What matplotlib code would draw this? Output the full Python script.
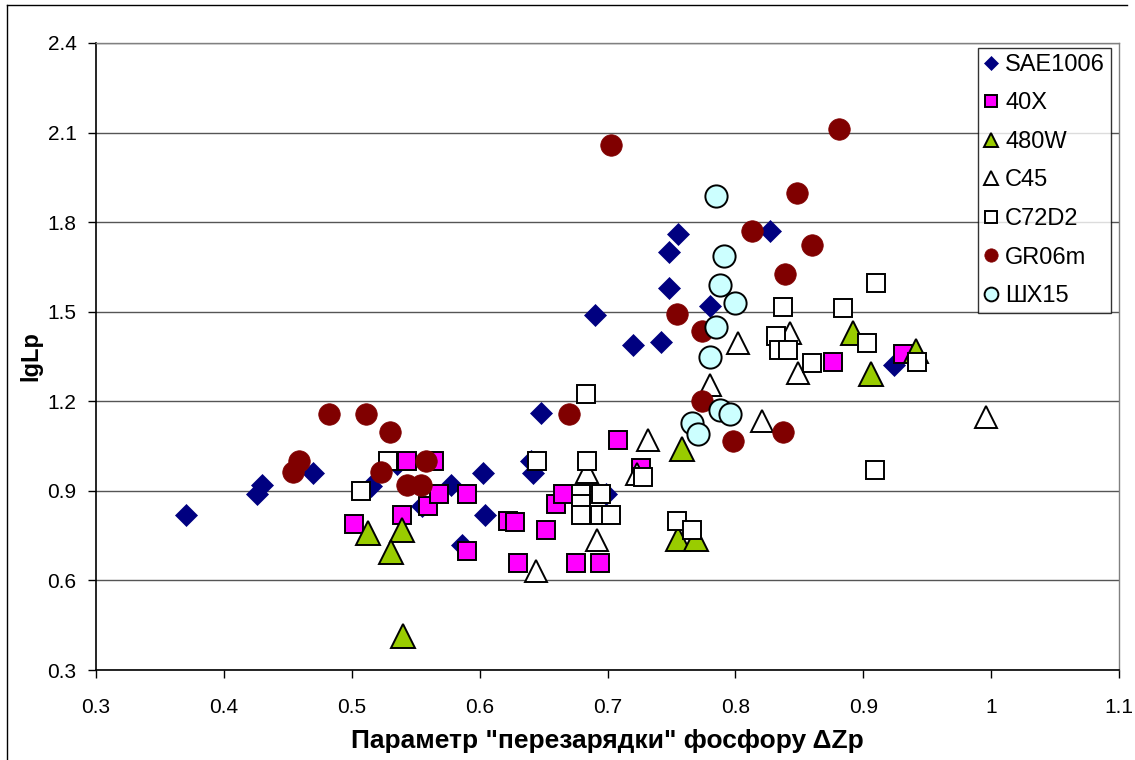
import matplotlib
matplotlib.use("Agg")
import matplotlib.pyplot as plt
from matplotlib.lines import Line2D

plt.rcParams['font.family'] = ['Liberation Sans', 'DejaVu Sans']

# ---- data ----
sae_x = [0.37, 0.426, 0.43, 0.47, 0.515, 0.535, 0.555, 0.578, 0.586, 0.603, 0.604, 0.64, 0.642,
         0.648, 0.69, 0.699, 0.72, 0.742, 0.748, 0.748, 0.755, 0.78, 0.827, 0.924]
sae_y = [0.82, 0.89, 0.92, 0.96, 0.915, 0.99, 0.85, 0.92, 0.72, 0.96, 0.82, 1.0, 0.96,
         1.16, 1.49, 0.89, 1.39, 1.40, 1.58, 1.70, 1.76, 1.52, 1.77, 1.32]

x40_x = [0.502, 0.539, 0.543, 0.56, 0.564, 0.568, 0.59, 0.59, 0.622, 0.628, 0.63, 0.652, 0.66,
         0.665, 0.675, 0.694, 0.708, 0.726, 0.876, 0.931]
x40_y = [0.79, 0.82, 1.0, 0.85, 1.0, 0.89, 0.89, 0.70, 0.80, 0.795, 0.66, 0.77, 0.855,
         0.89, 0.66, 0.66, 1.07, 0.975, 1.33, 1.36]

w480_x = [0.513, 0.539, 0.531, 0.54, 0.758, 0.755, 0.769, 0.892, 0.906, 0.941]
w480_y = [0.76, 0.77, 0.695, 0.415, 1.04, 0.74, 0.74, 1.43, 1.29, 1.37]

c45_x = [0.644, 0.684, 0.692, 0.723, 0.732, 0.78, 0.802, 0.821, 0.843, 0.849, 0.996]
c45_y = [0.633, 0.962, 0.737, 0.958, 1.072, 1.254, 1.394, 1.133, 1.428, 1.294, 1.146]

c72_x = [0.507, 0.528, 0.645, 0.683, 0.684, 0.679, 0.679, 0.679, 0.695, 0.694, 0.703, 0.728,
         0.754, 0.766, 0.832, 0.834, 0.841, 0.837, 0.86, 0.884, 0.903, 0.91, 0.909, 0.942]
c72_y = [0.90, 1.0, 1.0, 1.223, 1.0, 0.89, 0.855, 0.82, 0.89, 0.82, 0.82, 0.945,
         0.798, 0.768, 1.418, 1.371, 1.371, 1.516, 1.327, 1.512, 1.394, 1.595, 0.969, 1.33]

gr_x = [0.454, 0.459, 0.482, 0.511, 0.523, 0.53, 0.543, 0.554, 0.558, 0.67, 0.703, 0.754,
        0.774, 0.774, 0.798, 0.813, 0.837, 0.839, 0.848, 0.86, 0.881]
gr_y = [0.962, 1.0, 1.156, 1.156, 0.962, 1.096, 0.918, 0.918, 1.0, 1.156, 2.058, 1.492,
        1.435, 1.2, 1.066, 1.77, 1.096, 1.625, 1.897, 1.723, 2.112]

sh_x = [0.766, 0.771, 0.78, 0.785, 0.785, 0.788, 0.788, 0.791, 0.796, 0.8]
sh_y = [1.126, 1.089, 1.347, 1.448, 1.887, 1.589, 1.17, 1.686, 1.156, 1.528]

x_ticks = [0.3, 0.4, 0.5, 0.6, 0.7, 0.8, 0.9, 1.0, 1.1]
x_tick_labels = ['0.3', '0.4', '0.5', '0.6', '0.7', '0.8', '0.9', '1', '1.1']
y_ticks = [0.3, 0.6, 0.9, 1.2, 1.5, 1.8, 2.1, 2.4]
y_tick_labels = ['0.3', '0.6', '0.9', '1.2', '1.5', '1.8', '2.1', '2.4']

x_label = 'Параметр "перезарядки" фосфору ΔZp'
y_label = 'lgLp'

# ---- figure ----
W, H = 1135, 760
fig = plt.figure(figsize=(W / 100, H / 100), dpi=100)
ax = fig.add_axes([96 / W, 1 - 670 / H, (1119 - 96) / W, (670 - 43) / H])

series = [
    ('SAE1006', sae_x, sae_y, dict(marker='D', ms=11.5, mfc='#000080', mec='#000080', mew=0.5)),
    ('40X', x40_x, x40_y, dict(marker='s', ms=13.5, mfc='#FF00FF', mec='black', mew=1.4)),
    ('480W', w480_x, w480_y, dict(marker='^', ms=17, mfc='#99CC00', mec='black', mew=1.4)),
    ('C45', c45_x, c45_y, dict(marker='^', ms=15.5, mfc='white', mec='black', mew=1.4)),
    ('C72D2', c72_x, c72_y, dict(marker='s', ms=13.5, mfc='white', mec='black', mew=1.4)),
    ('GR06m', gr_x, gr_y, dict(marker='o', ms=15.5, mfc='#800000', mec='#800000', mew=0.5)),
    ('ШХ15', sh_x, sh_y, dict(marker='o', ms=16, mfc='#CCFFFF', mec='black', mew=1.4)),
]

handles = []
for i, (name, xs, ys, st) in enumerate(series):
    h, = ax.plot(xs, ys, linestyle='none', label=name, zorder=3 + i, **st)
    handles.append(h)

ax.set_xlim(0.3, 1.1)
ax.set_ylim(0.3, 2.4)
ax.set_xticks(x_ticks)
ax.set_xticklabels(x_tick_labels)
ax.set_yticks(y_ticks)
ax.set_yticklabels(y_tick_labels)
ax.tick_params(axis='x', direction='out', length=6, width=1, pad=14, labelsize=15, colors='black')
ax.tick_params(axis='y', direction='out', length=6, width=1, pad=8, labelsize=15, colors='black')

ax.grid(axis='y', color='#555555', linewidth=1)
ax.set_axisbelow(True)
for s in ['left', 'bottom']:
    ax.spines[s].set_color('black')
    ax.spines[s].set_linewidth(1.2)
ax.spines['top'].set_color('#808080')
ax.spines['right'].set_color('#808080')
ax.spines['top'].set_linewidth(1)
ax.spines['right'].set_linewidth(1)

ax.set_xlabel(x_label, fontsize=19, fontweight='bold', labelpad=9)
ax.set_ylabel(y_label, fontsize=17, fontweight='bold', labelpad=4)

leg = fig.legend(handles=handles, loc='upper right',
                 bbox_to_anchor=(1111 / W, 1 - 48 / H), borderaxespad=0,
                 fontsize=17, markerscale=0.62, frameon=True, fancybox=False,
                 handlelength=0.6, handletextpad=0.3, labelspacing=0.7,
                 borderpad=0.25, numpoints=1)
leg.get_frame().set_edgecolor('black')
leg.get_frame().set_linewidth(1)

# outer chart border
fig.add_artist(Line2D([7 / W, 7 / W], [0, 1 - 5 / H], transform=fig.transFigure, color='black', lw=1))
fig.add_artist(Line2D([7 / W, 1127 / W], [1 - 5 / H, 1 - 5 / H], transform=fig.transFigure, color='black', lw=1))

fig.savefig('out.png', dpi=100)
